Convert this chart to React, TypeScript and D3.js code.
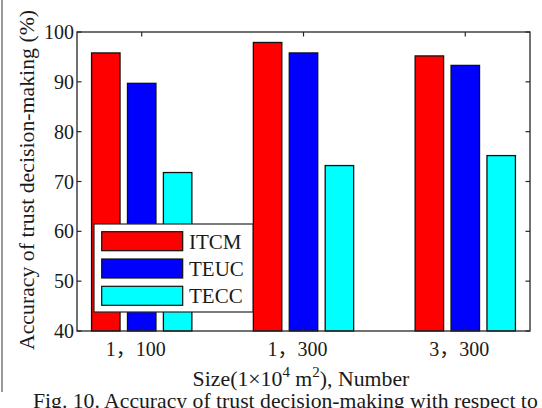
import * as d3 from "d3";

const categories = ["1，100", "1，300", "3，300"];
const seriesNames = ["ITCM", "TEUC", "TECC"];
const seriesColors = ["#ff0000", "#0000ff", "#00ffff"];
const itcm = [95.8, 97.9, 95.2];
const teuc = [89.7, 95.8, 93.3];
const tecc = [71.8, 73.2, 75.2];
const yTicks = [40, 50, 60, 70, 80, 90, 100];

const W = 542;
const H = 408;
const left = 77;
const right = 530;
const top = 32;
const bottom = 331;
const font = "'Liberation Serif', 'Times New Roman', 'Noto Sans CJK SC', serif";

export default function App() {
  const series = [itcm, teuc, tecc];
  const x = d3.scaleLinear().domain([0.6, 3.4]).range([left, right]);
  const y = d3.scaleLinear().domain([40, 100]).range([bottom, top]);
  const barW = 0.176;
  const offset = 0.222;
  const tickLen = 4.5;
  const axisColor = "#262626";

  return (
    <svg
      width={W}
      height={H}
      style={{ position: "absolute", left: 0, top: 0, background: "#fff" }}
      fontFamily={font}
    >
      <line x1={2} x2={2} y1={0} y2={392} stroke="#777" strokeWidth={1.5} />
      {series.map((vals, s) =>
        vals.map((v, i) => {
          const cx = i + 1 + (s - 1) * offset;
          return (
            <rect
              key={`${s}-${i}`}
              x={x(cx - barW / 2)}
              y={y(v)}
              width={x(cx + barW / 2) - x(cx - barW / 2)}
              height={y(40) - y(v)}
              fill={seriesColors[s]}
              stroke="#111"
              strokeWidth={1.3}
            />
          );
        })
      )}
      <rect
        x={left}
        y={top}
        width={right - left}
        height={bottom - top}
        fill="none"
        stroke={axisColor}
        strokeWidth={1.3}
      />
      {yTicks.map((t) => (
        <g key={t}>
          <line x1={left} x2={left + tickLen} y1={y(t)} y2={y(t)} stroke={axisColor} strokeWidth={1.2} />
          <line x1={right} x2={right - tickLen} y1={y(t)} y2={y(t)} stroke={axisColor} strokeWidth={1.2} />
          <text x={left - 3} y={y(t)} dy="0.35em" textAnchor="end" fontSize={20} fill="#1a1a1a">
            {t}
          </text>
        </g>
      ))}
      {categories.map((c, i) => (
        <g key={c}>
          <line x1={x(i + 1)} x2={x(i + 1)} y1={top} y2={top + tickLen} stroke={axisColor} strokeWidth={1.2} />
          <line x1={x(i + 1)} x2={x(i + 1)} y1={bottom} y2={bottom - tickLen} stroke={axisColor} strokeWidth={1.2} />
          <text x={x(i + 1) - 6} y={356} textAnchor="middle" fontSize={20} fill="#1a1a1a">
            {c}
          </text>
        </g>
      ))}
      {/* legend */}
      <rect x={94} y={224} width={159} height={88} fill="#fff" stroke={axisColor} strokeWidth={1.2} />
      {seriesNames.map((n, s) => {
        const ry = 231.7 + s * 27.3;
        return (
          <g key={n}>
            <rect x={101.7} y={ry} width={81} height={19} fill={seriesColors[s]} stroke="#111" strokeWidth={1.2} />
            <text x={189} y={ry + 9.5} dy="0.35em" fontSize={21} fill="#1a1a1a">
              {n}
            </text>
          </g>
        );
      })}
      <text x={301} y={386} textAnchor="middle" fontSize={21.8} fill="#1a1a1a">
        Size(1×10
        <tspan dy={-9} fontSize={15}>4</tspan>
        <tspan dy={9}> m</tspan>
        <tspan dy={-9} fontSize={15}>2</tspan>
        <tspan dy={9}>), Number</tspan>
      </text>
      <text
        transform={`translate(34,180) rotate(-90)`}
        textAnchor="middle"
        fontSize={21.8}
        fill="#1a1a1a"
      >
        Accuracy of trust decision-making (%)
      </text>
      <text x={33} y={408} fontSize={21.7} fill="#1a1a1a">
        Fig. 10. Accuracy of trust decision-making with respect to
      </text>
    </svg>
  );
}
